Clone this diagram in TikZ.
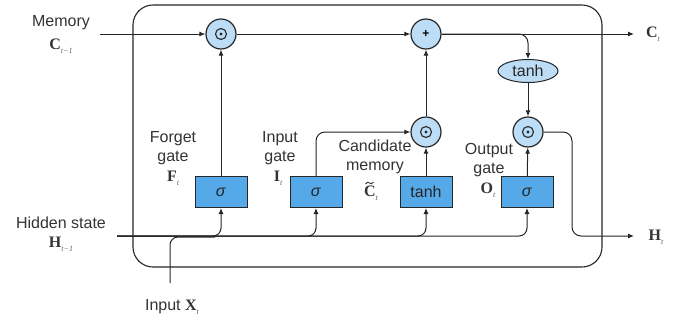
\documentclass[tikz,border=0pt]{standalone}
\usepackage{fontspec}
\setmainfont{Liberation Sans}
\newfontfamily\serifbf{Liberation Serif}
\usetikzlibrary{shapes.geometric,arrows.meta}
\definecolor{boxblue}{HTML}{55A9E8}
\definecolor{lightblue}{HTML}{BDDDF6}
\newcommand{\bsym}[1]{{\serifbf\bfseries\fontsize{16}{16}\selectfont #1}}
\newcommand{\subsc}[1]{\raisebox{-4pt}{\serifbf\itshape\fontsize{8}{8}\selectfont\color{black!60}#1}}
\tikzset{
  conn/.style={line width=1pt, draw=black!85},
  arr/.style={conn, -{Latex[length=6pt,width=5pt]}},
  mult/.style={circle, draw=black!85, line width=1.2pt, fill=lightblue, minimum size=30pt, inner sep=0pt},
  gatebox/.style={rectangle, draw=black!85, line width=1pt, fill=boxblue, minimum width=52pt, minimum height=31pt, inner sep=0pt, font=\fontsize{16}{16}\selectfont, text=black!85},
  lbl/.style={font=\fontsize{16}{19}\selectfont, text=black!80, inner sep=0pt, align=center},
  mlbl/.style={inner sep=0pt, text=black!80}
}
\newcommand{\odotsym}[1]{%
  \fill[black!85] (#1) circle (1.6pt);
  \draw[black!85, line width=1.1pt] (#1) circle (5.5pt);
}
\begin{document}
\begin{tikzpicture}[x=1pt,y=-1pt]
\useasboundingbox (0,0) rectangle (681,325);
% outer box
\draw[line width=1.1pt, draw=black!85, rounded corners=20pt] (133,5) rectangle (602,267);
% nodes
\node[mult] (fm) at (221,34) {};
\node[mult, font=\bfseries\fontsize{12}{12}\selectfont] (plus) at (426,34) {+};
\node[mult] (cm) at (426,132) {};
\node[mult] (om) at (528,132) {};
\odotsym{fm}
\odotsym{cm}
\odotsym{om}
\node[ellipse, draw=black!85, line width=1pt, fill=lightblue, minimum width=60pt, minimum height=23pt, inner sep=0pt, font=\fontsize{16}{16}\selectfont, text=black!85] (tanhE) at (528,71) {tanh};
\node[gatebox] (fbox) at (221,192) {\textit{σ}};
\node[gatebox] (ibox) at (316,192) {\textit{σ}};
\node[gatebox] (tbox) at (426,192) {tanh};
\node[gatebox] (obox) at (527,192) {\textit{σ}};
% coordinates
\coordinate (memin) at (100,34);
\coordinate (ctout) at (634,34);
\coordinate (hin) at (117,236);
\coordinate (xin) at (170,283);
\coordinate (xj) at (215,237);
\coordinate (htout) at (634,236);
\coordinate (hturn) at (572,236);
% connectors
\draw[arr] (memin) -- (fm);
\draw[arr] (fm) -- (plus);
\draw[arr] (plus) -- (ctout);
\draw[arr, rounded corners=9pt] (plus.east) -| (tanhE.north);
\draw[arr] (tanhE) -- (om);
\draw[arr] (fbox) -- (fm);
\draw[arr, rounded corners=9pt] (ibox.north) |- (cm.west);
\draw[arr] (tbox) -- (cm);
\draw[arr] (cm) -- (plus);
\draw[arr] (obox) -- (om);
\draw[arr, rounded corners=9pt] (om.east) -| (hturn) -- (htout);
\draw[arr, rounded corners=8pt] (hin) -| (fbox.south);
\draw[arr, rounded corners=8pt] (hin) -| (ibox.south);
\draw[arr, rounded corners=8pt] (hin) -| (tbox.south);
\draw[arr, rounded corners=8pt] (hin) -| (obox.south);
\draw[conn, rounded corners=8pt] (xin) |- (xj);
% labels
\node[lbl] (lmem) at (61,23) {Memory};
\node[mlbl] (lc1) at (61,46) {\bsym{C}\subsc{t−1}};
\node[mlbl] (lct) at (653,34) {\bsym{C}\subsc{t}};
\node[lbl] (lforget) at (173,148) {Forget\\gate};
\node[mlbl] (lf) at (173,178) {\bsym{F}\subsc{t}};
\node[lbl] (linput) at (280,148) {Input\\gate};
\node[mlbl] (li) at (278,178) {\bsym{I}\subsc{t}};
\node[lbl] (lcand) at (375,157) {Candidate\\memory};
\node[mlbl] (lctil) at (371,193) {\bsym{C}\subsc{t}};
\draw[line width=0.9pt, black!80] (365.5,184) .. controls (367,181.5) and (368.5,182) .. (369.5,183) .. controls (370.5,184) and (372,184.5) .. (373.5,182);
\node[lbl] (lout) at (489,160) {Output\\gate};
\node[mlbl] (lo) at (488,190) {\bsym{O}\subsc{t}};
\node[lbl] (lhid) at (61,223) {Hidden state};
\node[mlbl] (lh1) at (61,244) {\bsym{H}\subsc{t−1}};
\node[mlbl] (lht) at (656,237) {\bsym{H}\subsc{t}};
\node[lbl] (lx) at (172,307) {Input \bsym{X}\subsc{t}};
\end{tikzpicture}
\end{document}
